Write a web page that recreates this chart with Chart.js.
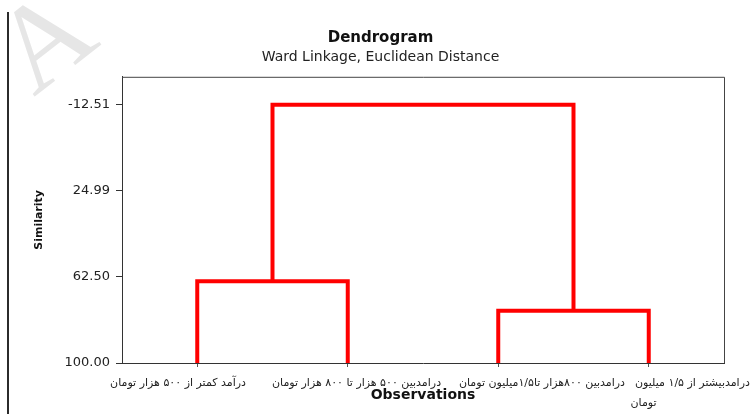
<!DOCTYPE html>
<html>
<head>
<meta charset="utf-8">
<script src="https://cdn.jsdelivr.net/npm/chart.js@4.4.1/dist/chart.umd.min.js"></script>
<style>
  html, body { margin: 0; padding: 0; background: #fff; }
  #wrap { position: relative; width: 751px; height: 414px; overflow: hidden; }
  #mark { position: absolute; left: 0px; top: -30px; font: 120px "Liberation Serif"; color: #e6e6e6; transform: rotate(-38deg); }
  #pageEdge { position: absolute; left: 7px; top: 12px; width: 2px; height: 402px; background: #2b2b2b; }
  canvas { position: absolute; left: 0; top: 0; }
</style>
</head>
<body>
<div id="wrap">
  <div id="mark">A</div>
  <div id="pageEdge"></div>
  <canvas id="dendrogram" width="751" height="414"></canvas>
</div>
<script>
const observations = [
  'درآمد کمتر از ۵۰۰ هزار تومان',
  'درامدبین ۵۰۰ هزار تا ۸۰۰ هزار تومان',
  'درامدبین ۸۰۰هزار تا۱/۵میلیون تومان',
  ['درامدبیشتر از ۱/۵ میلیون', 'تومان']
];
const leafPositions = [1, 2, 3, 4];
const similarityTicks = [-12.51, 24.99, 62.50, 100.00];

// each link joins a left and a right branch at a similarity level
const linkLeftX = [1, 3, 1.5];
const linkRightX = [2, 4, 3.5];
const linkLeftFrom = [100, 100, 64.43];
const linkRightFrom = [100, 100, 77.2];
const linkSimilarity = [64.43, 77.2, -12.51];

const links = linkSimilarity.map((s, i) => ({
  data: [
    { x: linkLeftX[i], y: linkLeftFrom[i] },
    { x: linkLeftX[i], y: s },
    { x: linkRightX[i], y: s },
    { x: linkRightX[i], y: linkRightFrom[i] }
  ],
  showLine: true,
  borderColor: '#ff0000',
  borderWidth: 4,
  borderJoinStyle: 'miter',
  borderCapStyle: 'butt',
  pointRadius: 0,
  fill: false
}));

// the original labels sit off-centre; nudge them with no-break spaces
const NBSP = '\u00A0';
function nudge(text, px) {
  const n = Math.round(Math.abs(px) * 2 / 3.5);
  const pad = NBSP.repeat(n);
  return px > 0 ? pad + text : text + pad;
}
const labelNudge = [-19, 8, 44, [43, -5]];

// top and right edges of the plot frame
const frame = {
  id: 'frame',
  afterDraw(chart) {
    const { ctx, chartArea: a } = chart;
    ctx.save();
    ctx.strokeStyle = '#444';
    ctx.lineWidth = 1;
    ctx.beginPath();
    ctx.moveTo(a.left, a.top + 0.5);
    ctx.lineTo(a.right + 0.5, a.top + 0.5);
    ctx.lineTo(a.right + 0.5, a.bottom);
    ctx.stroke();
    ctx.restore();
  }
};

const ctx = document.getElementById('dendrogram');
new Chart(ctx, {
  type: 'scatter',
  data: { datasets: links },
  plugins: [frame],
  options: {
    responsive: false,
    animation: false,
    layout: { padding: { top: 29, right: 0, bottom: 0, left: 10 } },
    plugins: {
      legend: { display: false },
      tooltip: { enabled: false },
      title: {
        display: true,
        text: 'Dendrogram',
        color: '#111',
        font: { family: 'DejaVu Sans', size: 15, weight: 'bold' },
        padding: { top: 0, bottom: 2 }
      },
      subtitle: {
        display: true,
        text: 'Ward Linkage, Euclidean Distance',
        color: '#222',
        font: { family: 'DejaVu Sans', size: 14 },
        padding: { top: 0, bottom: 11 }
      }
    },
    scales: {
      x: {
        type: 'linear',
        min: 0.5,
        max: 4.5,
        afterBuildTicks: s => { s.ticks = leafPositions.map(v => ({ value: v })); },
        ticks: {
          autoSkip: false,
          maxRotation: 0,
          minRotation: 0,
          padding: 6,
          color: '#222',
          font: { family: 'DejaVu Sans', size: 11, lineHeight: 1.85 },
          callback: v => {
            const i = leafPositions.indexOf(v);
            const label = observations[i];
            const shift = labelNudge[i];
            return Array.isArray(label) ? label.map((l, j) => nudge(l, shift[j])) : nudge(label, shift);
          }
        },
        grid: { drawOnChartArea: false, tickLength: 4, tickColor: '#555' },
        border: { display: true, color: '#333', width: 1 },
        title: {
          display: true,
          text: 'Observations',
          color: '#111',
          font: { family: 'DejaVu Sans', size: 14, weight: 'bold' },
          padding: { top: 0, bottom: 10 }
        },
        afterFit: s => { s.height = 51; s.paddingLeft = 0; s.paddingRight = 0; }
      },
      y: {
        type: 'linear',
        reverse: true,
        min: -24.7,
        max: 100,
        afterBuildTicks: s => { s.ticks = similarityTicks.map(v => ({ value: v })); },
        ticks: {
          padding: 6,
          color: '#222',
          font: { family: 'DejaVu Sans', size: 13 },
          callback: v => v.toFixed(2)
        },
        grid: { drawOnChartArea: false, tickLength: 6, tickColor: '#333' },
        border: { display: true, color: '#333', width: 1 },
        title: {
          display: true,
          text: 'Similarity',
          color: '#111',
          font: { family: 'DejaVu Sans', size: 11, weight: 'bold' },
          padding: { top: 23 }
        },
        afterFit: s => { s.width = 112; }
      },
      yRight: {
        type: 'linear',
        position: 'right',
        min: 0,
        max: 1,
        ticks: { display: false },
        grid: { display: false },
        border: { display: false },
        afterFit: s => { s.width = 27; }
      }
    }
  }
});
</script>
</body>
</html>
